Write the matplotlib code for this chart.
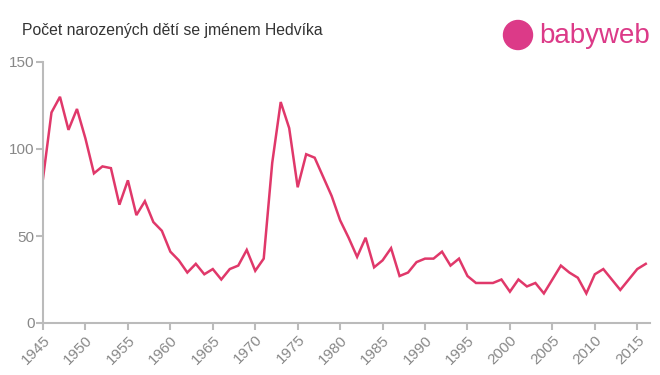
import matplotlib
matplotlib.use("Agg")
import matplotlib.pyplot as plt
from matplotlib.patches import Ellipse

plt.rcParams['font.family'] = ['Liberation Sans', 'DejaVu Sans']

# births per year
years = list(range(1945, 2017))
counts = [
    83, 121, 130, 111, 123, 106, 86, 90, 89, 68,
    82, 62, 70, 58, 53, 41, 36, 29, 34, 28,
    31, 25, 31, 33, 42, 30, 37, 92, 127, 112,
    78, 97, 95, 84, 73, 59, 49, 38, 49, 32,
    36, 43, 27, 29, 35, 37, 37, 41, 33, 37,
    27, 23, 23, 23, 25, 18, 25, 21, 23, 17,
    25, 33, 29, 26, 17, 28, 31, 25, 19, 25,
    31, 34,
]
xticks = list(range(1945, 2016, 5))
yticks = [0, 50, 100, 150]

line_color = '#e0386a'
axis_color = '#bbbbbb'
label_color = '#888888'
logo_color = '#dc3a88'

W, H = 660, 375
fig = plt.figure(figsize=(W / 100, H / 100), dpi=100)
ax = fig.add_axes([43 / W, 52 / H, 607 / W, 261 / H])

ax.plot(years, counts, color=line_color, linewidth=1.8, solid_joinstyle='miter')

ax.set_xlim(1945, 2016.5)
ax.set_ylim(0, 150)
ax.set_xticks(xticks)
ax.set_yticks(yticks)
ax.set_xticklabels([str(y) for y in xticks], rotation=45, ha='right',
                   rotation_mode='anchor')

for side in ('top', 'right'):
    ax.spines[side].set_visible(False)
for side in ('left', 'bottom'):
    ax.spines[side].set_color(axis_color)
    ax.spines[side].set_linewidth(1.5)
ax.tick_params(colors=axis_color, width=1.5, length=5, labelcolor=label_color,
               labelsize=11)
ax.tick_params(axis='x', pad=2)
ax.tick_params(axis='y', pad=1)

fig.text(22 / W, 1 - 31 / H, 'Počet narozených dětí se jménem Hedvíka',
         fontsize=11.3, color='#333333', va='center', ha='left')

# babyweb logo
fig.patches.append(Ellipse((518 / W, 1 - 35 / H), 29 / W, 29 / H,
                           transform=fig.transFigure, color=logo_color))
fig.text(539 / W, 1 - 36 / H, 'babyweb', fontsize=20, color=logo_color,
         va='center', ha='left')

fig.savefig('out.png', dpi=100, facecolor='white')
